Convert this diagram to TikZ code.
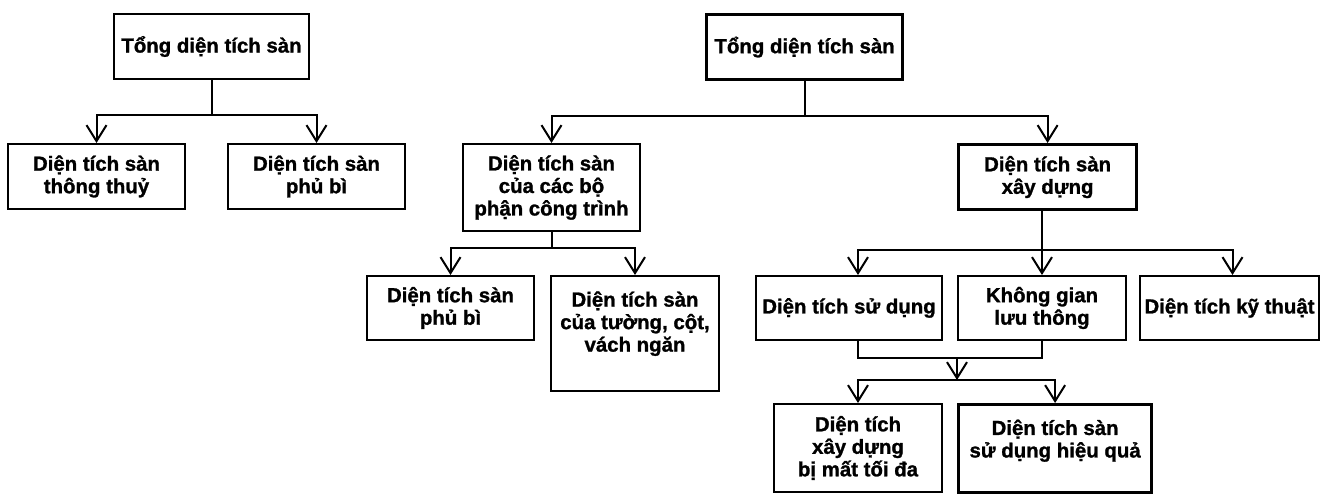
\documentclass[tikz,border=0pt]{standalone}
\usepackage{fontspec}
\setmainfont{Liberation Sans}[BoldFeatures={FakeBold=1.2}]
\usetikzlibrary{arrows.meta}

\tikzset{
  box/.style={draw, line width=2pt, anchor=north west, align=center, inner sep=0pt,
    font=\bfseries\fontsize{20.4}{22.5}\selectfont},
  mainbox/.style={box, line width=3.2pt},
  link/.style={line width=2pt},
  arr/.style={link, -{Straight Barb[length=16pt,width=20pt]}}
}

\begin{document}
\begin{tikzpicture}[x=1pt,y=-1pt]
    \useasboundingbox (0,0) rectangle (1322,494);

    % Place the nodes
    \node[box, minimum width=195pt, minimum height=65pt] (L0) at (113,13) {Tổng diện tích sàn};
    \node[box, minimum width=177pt, minimum height=65pt] (L1) at (7,143) {Diện tích sàn\\thông thuỷ};
    \node[box, minimum width=177pt, minimum height=65pt] (L2) at (227,143) {Diện tích sàn\\phủ bì};

    \node[mainbox, minimum width=196pt, minimum height=65pt] (R0) at (705,13) {Tổng diện tích sàn};
    \node[box, minimum width=177pt, minimum height=87pt] (A) at (462,143) {Diện tích sàn\\của các bộ\\phận công trình};
    \node[mainbox, minimum width=178pt, minimum height=65pt] (B) at (957,143) {Diện tích sàn\\xây dựng};

    \node[box, minimum width=167pt, minimum height=64pt] (A1) at (366,275) {Diện tích sàn\\phủ bì};
    \node[box, minimum width=168pt, minimum height=115pt, text depth=24pt] (A2) at (550,275) {Diện tích sàn\\của tường, cột,\\vách ngăn};

    \node[box, minimum width=186pt, minimum height=64pt] (B1) at (755,275) {Diện tích sử dụng};
    \node[box, minimum width=168pt, minimum height=64pt] (B2) at (957,275) {Không gian\\lưu thông};
    \node[box, minimum width=179pt, minimum height=64pt] (B3) at (1139,275) {Diện tích kỹ thuật};

    \node[box, minimum width=168pt, minimum height=88pt] (C1) at (773,403) {Diện tích\\xây dựng\\bị mất tối đa};
    \node[mainbox, minimum width=193pt, minimum height=88pt, text depth=20pt] (C2) at (957,403) {Diện tích sàn\\sử dụng hiệu quả};

    \coordinate (join) at (957,358);
    \coordinate (split) at (957,380);

    % Draw the lines
    \draw[arr] (L0.south) -- ++(0,35) -| (L1.north);
    \draw[arr] (L0.south) -- ++(0,35) -| (L2.north);

    \draw[arr] (R0.south) -- ++(0,35) -| (A.north);
    \draw[arr] (R0.south) -- ++(0,35) -| (B.north);

    \draw[arr] (A.south) -- ++(0,16) -| (A1.north);
    \draw[arr] (A.south) -- ++(0,16) -| (A2.north);

    \draw[arr] (B.south -| B2.north) -- (B2.north);
    \draw[arr] (B.south -| B2.north) -- ++(0,39) -| ([xshift=9pt]B1.north);
    \draw[arr] (B.south -| B2.north) -- ++(0,39) -| ([xshift=3pt]B3.north);

    % Finally the bottom join
    \draw[link] ([xshift=9pt]B1.south) |- (join) -| (B2.south);
    \draw[arr] (join) -- (split);
    \draw[arr] (split) -| (C1.north);
    \draw[arr] (split) -| (C2.north);

\end{tikzpicture}
\end{document}
